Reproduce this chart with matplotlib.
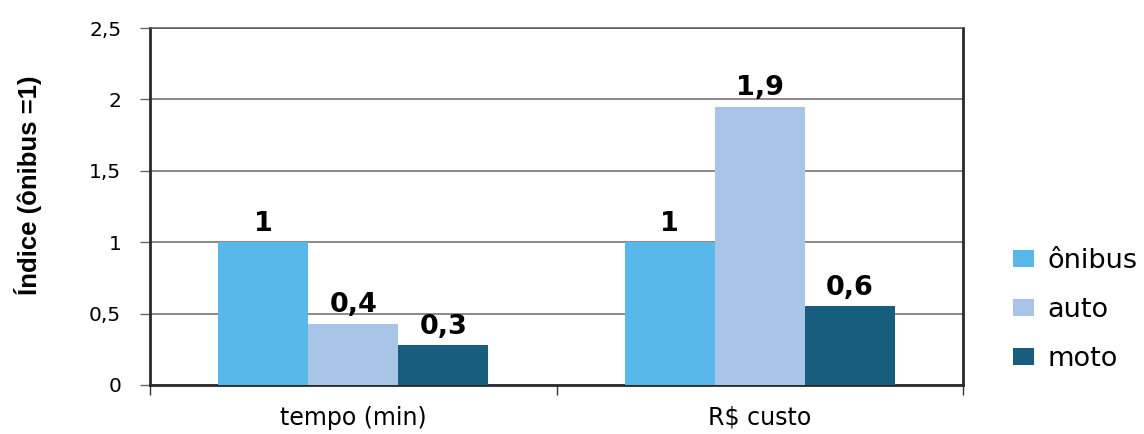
import matplotlib
matplotlib.use("Agg")
import matplotlib.pyplot as plt
import numpy as np

categories = ["tempo (min)", "R$ custo"]
series_names = ["ônibus", "auto", "moto"]
onibus = [1.0, 1.0]
auto = [0.43, 1.95]
moto = [0.28, 0.55]
bar_labels = [["1", "1"], ["0,4", "1,9"], ["0,3", "0,6"]]
yticks = [0, 0.5, 1, 1.5, 2, 2.5]
ytick_labels = ["0", "0,5", "1", "1,5", "2", "2,5"]
ylabel = "Índice (ônibus =1)"

colors = ["#57B8E9", "#A8C4E7", "#175E7E"]

W, H = 1144, 434
fig = plt.figure(figsize=(W / 100, H / 100), dpi=100)
ax = fig.add_axes([150 / W, 1 - 385 / H, (963 - 150) / W, (385 - 28) / H])

x = np.arange(len(categories))
w = 0.2214
values = [onibus, auto, moto]
handles = []
for i, (name, vals) in enumerate(zip(series_names, values)):
    bars = ax.bar(x + (i - 1) * w, vals, width=w, color=colors[i], label=name, zorder=3)
    handles.append(bars)
    for b, lab in zip(bars, bar_labels[i]):
        ax.annotate(lab, (b.get_x() + b.get_width() / 2, b.get_height()),
                    xytext=(0, 8), textcoords="offset points",
                    ha="center", va="baseline", fontsize=19.5,
                    fontweight="bold", family="DejaVu Sans", zorder=4)

ax.set_xlim(-0.5, 1.5)
ax.set_ylim(0, 2.5)
ax.set_yticks(yticks, ytick_labels)
ax.tick_params(axis="y", length=7.2, width=1, color="#666666", pad=13.5,
               direction="out", labelsize=14.5, labelfontfamily="DejaVu Sans")
ax.yaxis.grid(True, color="#6a6a6a", lw=1.1, zorder=1)

ax.set_xticks(x, categories)
ax.set_xticks([-0.5, 0.5, 1.5], minor=True)
ax.tick_params(axis="x", which="major", length=0, pad=15,
               labelsize=17, labelfontfamily="DejaVu Sans")
ax.tick_params(axis="x", which="minor", length=7.2, width=1, color="#333333", direction="out")

for s in ["left", "bottom", "right"]:
    ax.spines[s].set_color("#2a2a2a")
    ax.spines[s].set_linewidth(2)
ax.spines["top"].set_color("#555555")
ax.spines["top"].set_linewidth(1.1)

fig.text(28 / W, 1 - 185 / H, ylabel, rotation=90, ha="center", va="center",
         fontsize=18.5, fontweight="bold",
         family=["Liberation Sans", "DejaVu Sans"])

leg = fig.legend(handles=handles, labels=series_names, loc="center left",
                 bbox_to_anchor=(1013 / W, 1 - 310 / H), frameon=False,
                 prop={"family": "DejaVu Sans", "size": 19.5},
                 handlelength=0.78, handleheight=0.62, handletextpad=0.48,
                 labelspacing=0.85, borderpad=0, borderaxespad=0)

fig.savefig("out.png", dpi=100)
